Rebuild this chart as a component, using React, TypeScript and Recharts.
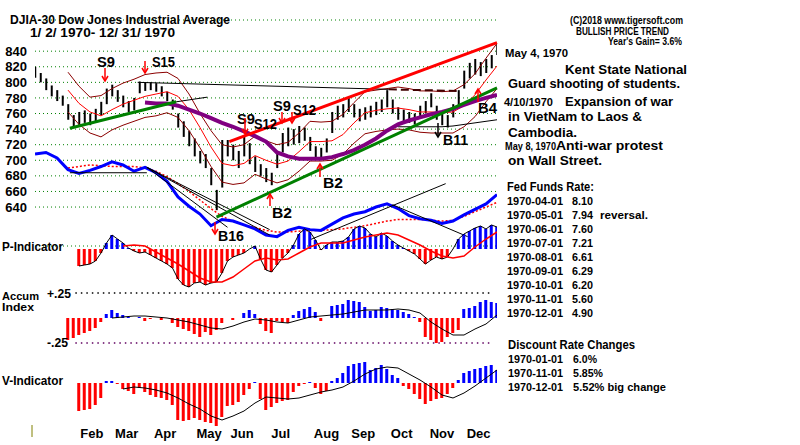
import React from 'react';
import { ComposedChart, Bar, Line, XAxis, YAxis, CartesianGrid, ReferenceLine, Cell } from 'recharts';

const FONT = '"Liberation Sans", Arial, sans-serif';

// one bar every 3 trading days, Jan 2 .. Dec 31 1970 (day index 0..252)
const BAR_STEP = 3;
const LAST_DAY = 252;

const priceHigh = [
  820, 812, 805, 796, 790, 783, 772, 758, 762, 764,
  760, 766, 775, 792, 797, 790, 783, 776, 780, 801,
  800, 800, 799, 795, 788, 778, 760, 750, 738, 728,
  712, 708, 690, 662, 726, 726, 720, 712, 732, 722,
  705, 695, 690, 684, 712, 735, 742, 740, 744, 742,
  730, 718, 716, 728, 762, 770, 772, 781, 772, 766,
  768, 770, 775, 778, 790, 778, 768, 765, 762, 760,
  770, 776, 786, 770, 760, 758, 772, 790, 815, 825,
  830, 826, 830, 835, 850,
];
const priceLow = [
  806, 800, 790, 782, 776, 770, 752, 742, 744, 748,
  745, 750, 758, 772, 782, 775, 768, 762, 764, 786,
  789, 790, 788, 782, 776, 765, 742, 730, 718, 705,
  696, 690, 668, 636, 665, 705, 700, 690, 705, 695,
  685, 680, 672, 668, 690, 710, 718, 720, 722, 725,
  712, 704, 702, 710, 735, 752, 755, 762, 755, 750,
  752, 755, 758, 762, 768, 760, 752, 750, 748, 746,
  755, 760, 768, 752, 745, 742, 755, 770, 792, 805,
  810, 808, 812, 818, 835,
];

// P-Indicator, Accum Index (x100), V-Indicator, one per bar
const pInd = [
  null, null, null, null, null, null, null, null,
  -17, -16, -15, -12, -4, 6, 14, 10, 6, 1,
  -2, -4, -3, -6, -9, -12, -15, -19, -30, -36,
  -38, -34, -33, -36, -34, -33, -24, -12, -8, -6,
  -4, 0, 3, -10, -21, -23, -16, -9, -4, 4,
  15, 20, 17, 9, -1, 4, 7, 7, 8, 12,
  20, 23, 21, 15, 12, 16, 13, 8, 4, 1,
  -2, -5, -10, -15, -11, -8, -10, -8, 0, 10,
  15, 18, 21, 23, 20, 24, 22,
];
const accum = [
  null, null, null, null, null, null,
  -22, -20, -17, -15, -13, -10, -4, 4, 8, 5,
  3, 1, 0, 1, -3, -1, 0, -2, 0, -5,
  -9, -11, -13, -16, -19, -14, -17, -12, -5, 0,
  -2, 0, 5, 8, 4, -6, -13, -15, -3, -4,
  -5, 3, 7, 9, 11, 6, -3, 0, 12, 13,
  14, 18, 17, 16, 11, 7, 8, 11, 10, 9,
  8, 6, 4, 1, -4, -19, -22, -25, -24, -19,
  -15, -12, 9, 10, 12, 16, 18, 16, 15,
];
const vInd = [
  null, null, null, null, null, null, null, null,
  -28, -27, -26, -22, -15, 2, 2, -1, -6, -8,
  -11, -5, -9, -12, -14, -15, -17, -22, -37, -38,
  -37, -35, -37, -39, -40, -43, -34, -23, -22, -19,
  -12, -6, 1, -16, -27, -24, -20, -18, -17, -9,
  -3, -1, 1, -5, -11, -8, 2, 5, 10, 17,
  19, 20, 21, 13, 15, 18, 14, 8, 5, -3,
  -6, -11, -16, -21, -18, -16, -15, -11, -5, 3,
  10, 12, 14, 15, 17, 18, 13,
];

// smoothed lines, one value every second bar (every 6 trading days)
const ma21 = [
  null, null, null,
  790, 773, 762, 757, 765, 772, 777, 782, 785, 788,
  782, 765, 742, 717, 696, 693, 696, 706, 700, 695,
  699, 711, 724, 724, 725, 733, 748, 761, 764, 766,
  767, 765, 762, 762, 761, 762, 770, 784, 803, 821,
];
const upperBand = [
  null, null, null,
  813, 795, 781, 783, 792, 799, 804, 810, 812, 813,
  805, 785, 760, 738, 720, 717, 720, 731, 725, 720,
  723, 735, 750, 749, 750, 759, 774, 788, 790, 792,
  794, 792, 789, 789, 788, 789, 797, 811, 831, 850,
];
const lowerBand = [
  null, null, null,
  762, 746, 735, 730, 739, 745, 750, 755, 757, 761,
  755, 738, 716, 692, 672, 669, 671, 682, 676, 671,
  675, 686, 699, 699, 700, 708, 722, 734, 737, 739,
  740, 739, 736, 735, 735, 735, 743, 756, 775, 792,
];
const ma65 = [
  null, null, null, null, null, null, null, null, null, null,
  774, 773, 773, 770, 765, 760, 754, 748, 743, 737,
  731, 724, 710, 705, 702, 702, 702, 704, 708, 713,
  720, 728, 738, 746, 751, 755, 759, 762, 766, 771,
  776, 780, 784,
];
const ma200 = [
  null, null, null, null, null, null, null, null, null, null,
  null, null, null, null, null, null, null, null, null, null,
  null, null, null, null, null, null, null, null, null, null,
  null, null, null,
  743, 743, 743, 743, 743, 744, 746, 748, 750, 752,
];
const relStrength = [
  708, 710, 703, 688, 683, 687, 692, 698, 694, 686,
  691, 684, 673, 653, 641, 631, 616, 624, 622, 617,
  612, 604, 602, 610, 614, 611, 610, 618, 626, 631,
  634, 640, 644, 638, 629, 625, 623, 619, 622, 630,
  637, 644, 656,
];
const relStrengthMa = [
  null, null, null,
  690, 692, 694, 693, 692, 692, 692, 690, 686, 679,
  670, 660, 649, 638, 628, 622, 617, 614, 610, 608,
  608, 609, 610, 610, 611, 612, 614, 616, 619, 622,
  624, 624, 624, 623, 622, 623, 628, 634, 640, 646,
];
const pIndMa = [
  null, null, null, null, null, null, null, null,
  3, 4, 3, -3, -9, -15, -22, -29, -33, -33,
  -28, -20, -12, -9, -11, -10, -4, 2, 6, 6,
  6, 9, 12, 14, 16, 14, 9, 4, -2, -7,
  -9, -7, 2, 10, 17,
];
const accumMa = [
  null, null, null, null, null, null, null,
  0, 1, 2, 2, 1, 0, -2, -4, -7, -10,
  -11, -8, -4, -1, -2, -4, -5, -2, 1, 2,
  3, 4, 6, 8, 8, 8, 9, 8, 5, -4,
  -11, -17, -17, -11, -6, 3,
];
const vIndMa = [
  null, null, null, null, null, null, null, null,
  -6, -4, -5, -7, -10, -15, -21, -26, -33, -37,
  -33, -28, -20, -14, -15, -16, -15, -12, -9, -7,
  -4, 2, 9, 14, 16, 15, 9, 3, -4, -12,
  -15, -10, -3, 5, 13,
];

// trend lines: [day, value] pairs
const redTrend = [[106, 724], [252, 851]];
const greenTrends = [
  [[19, 741], [77, 775]],
  [[99, 627], [252, 793]],
];
const resistance = [[56, 800], [193, 791]];
const resistanceDashed = [[193, 791], [230, 789]];
const thinTrends = [
  [[77, 775], [94, 781]],
  [[19, 684], [61, 684]],
  [[61, 691], [128, 604]],
  [[61, 691], [128, 611]],
  [[61, 691], [105, 614]],
  [[150, 598], [224, 670]],
  [[195, 643], [236, 602]],
];
const accumBounds = [25, -25];

const priceTicks = [640, 660, 680, 700, 720, 740, 760, 780, 800, 820, 840];
const monthTicks = [31, 50, 71, 95, 113, 134, 159, 179, 200, 222, 242];
const monthLabels = ['Feb', 'Mar', 'Apr', 'May', 'Jun', 'Jul', 'Aug', 'Sep', 'Oct', 'Nov', 'Dec'];

const rows = priceHigh.map((high, i) => {
  const k = i % 2 === 0 ? i / 2 : -1;
  const at = (arr: (number | null)[]) => (k >= 0 ? arr[k] : null);
  return {
    t: i * BAR_STEP,
    hl: [priceLow[i], high],
    p: pInd[i],
    a: accum[i],
    v: vInd[i],
    ma21: at(ma21),
    up: at(upperBand),
    lo: at(lowerBand),
    ma65: at(ma65),
    ma200: at(ma200),
    rs: at(relStrength),
    rsMa: at(relStrengthMa),
    pMa: at(pIndMa),
    aMa: at(accumMa),
    vMa: at(vIndMa),
  };
});

const RED = '#ff0000';
const BLUE = '#0000ff';
const MAROON = '#8b0000';
const GREEN = '#008000';
const PURPLE = '#800080';

const seg = (s: number[][]) => s.map(([x, y]) => ({ x, y }));
const margins = { top: 0, right: 303, bottom: 0, left: 35 };

const xAxis = <XAxis type="number" dataKey="t" domain={[0, LAST_DAY]} hide allowDataOverflow />;
const flatY = (domain: number[]) => (
  <YAxis domain={domain} width={0} tick={false} axisLine={false} tickLine={false} allowDataOverflow />
);

function Txt({ x, y, s = 12, w, c = '#000', children }: any) {
  return (
    <text x={x} y={y} fontSize={s} fontWeight="bold" fill={c} fontFamily={FONT}
      textLength={w} lengthAdjust="spacingAndGlyphs">{children}</text>
  );
}

function Arrow({ x, y1, y2, c = RED }: any) {
  const d = y2 > y1 ? 1 : -1;
  return (
    <g stroke={c} strokeWidth={1.5} fill="none">
      <line x1={x} y1={y1} x2={x} y2={y2} />
      <polyline points={`${x - 3},${y2 - d * 5} ${x},${y2} ${x + 3},${y2 - d * 5}`} />
    </g>
  );
}

function MonthTick({ x, y, payload }: any) {
  const idx = monthTicks.indexOf(payload.value);
  return (
    <text x={x} y={y + 9} textAnchor="middle" fontSize={13} fontWeight="bold" fontFamily={FONT} fill="#000">
      {monthLabels[idx]}
    </text>
  );
}

const fedFunds = [
  ['1970-04-01', '8.10'], ['1970-05-01', '7.94'], ['1970-06-01', '7.60'],
  ['1970-07-01', '7.21'], ['1970-08-01', '6.61'], ['1970-09-01', '6.29'],
  ['1970-10-01', '6.20'], ['1970-11-01', '5.60'], ['1970-12-01', '4.90'],
];
const discountRates = [
  ['1970-01-01', '6.0%'], ['1970-11-01', '5.85%'], ['1970-12-01', '5.52% big change'],
];

export default function App() {
  const abs = (top: number): React.CSSProperties => ({ position: 'absolute', left: 0, top });
  return (
    <div style={{ position: 'fixed', left: 0, top: 0, width: 800, height: 445, background: '#fff', overflow: 'hidden', fontFamily: FONT }}>
      {/* price panel */}
      <div style={abs(0)}>
        <ComposedChart width={800} height={260} data={rows} margin={{ top: 20, right: 303, bottom: 14, left: 0 }}>
          <CartesianGrid vertical={false} stroke={GREEN} strokeDasharray="1 3" />
          {xAxis}
          <YAxis domain={[590, 880]} ticks={priceTicks} width={35} interval={0} axisLine={false} tickLine={false}
            tick={{ fontSize: 13, fontWeight: 'bold', fill: '#000', fontFamily: FONT }} />
          <Line dataKey="up" stroke={MAROON} strokeWidth={1} dot={false} connectNulls isAnimationActive={false} />
          <Line dataKey="lo" stroke={MAROON} strokeWidth={1} dot={false} connectNulls isAnimationActive={false} />
          <Line dataKey="ma21" stroke={RED} strokeWidth={1} dot={false} connectNulls isAnimationActive={false} />
          <Line dataKey="ma200" stroke="#000" strokeWidth={1} dot={false} connectNulls isAnimationActive={false} />
          <Line dataKey="ma65" stroke={PURPLE} strokeWidth={4} dot={false} connectNulls isAnimationActive={false} />
          <Bar dataKey="hl" fill="#000" barSize={2} isAnimationActive={false} />
          <Line dataKey="rsMa" stroke={RED} strokeWidth={1.5} strokeDasharray="2 2" dot={false} connectNulls isAnimationActive={false} />
          <Line dataKey="rs" stroke={BLUE} strokeWidth={3} dot={false} connectNulls isAnimationActive={false} />
          {thinTrends.map((s, i) => (
            <ReferenceLine key={i} segment={seg(s)} stroke="#000" strokeWidth={1} />
          ))}
          <ReferenceLine segment={seg(resistance)} stroke="#000" strokeWidth={1} />
          <ReferenceLine segment={seg(resistanceDashed)} stroke="#400000" strokeWidth={2} strokeDasharray="8 4" />
          {greenTrends.map((s, i) => (
            <ReferenceLine key={i} segment={seg(s)} stroke={GREEN} strokeWidth={3} />
          ))}
          <ReferenceLine segment={seg(redTrend)} stroke={RED} strokeWidth={3} />
        </ComposedChart>
      </div>

      {/* P-Indicator */}
      <div style={abs(223)}>
        <ComposedChart width={800} height={66} data={rows} margin={margins}>
          {xAxis}
          {flatY([-40, 26])}
          <Bar dataKey="p" barSize={3} isAnimationActive={false}>
            {rows.map((r, i) => <Cell key={i} fill={(r.p ?? 0) >= 0 ? BLUE : RED} />)}
          </Bar>
          <Line dataKey="p" stroke="#000" strokeWidth={1} dot={false} isAnimationActive={false} />
          <Line dataKey="pMa" stroke={RED} strokeWidth={1.5} dot={false} connectNulls isAnimationActive={false} />
        </ComposedChart>
      </div>

      {/* Accum Index */}
      <div style={abs(291)}>
        <ComposedChart width={800} height={54} data={rows} margin={margins}>
          {xAxis}
          {flatY([-27, 27])}
          {accumBounds.map((b, i) => (
            <ReferenceLine key={b} segment={[{ x: 22, y: b }, { x: 250, y: b }]}
              stroke={i === 0 ? '#000' : '#600060'} strokeWidth={1.5} strokeDasharray="1.5 4" />
          ))}
          <Bar dataKey="a" barSize={3} isAnimationActive={false}>
            {rows.map((r, i) => <Cell key={i} fill={(r.a ?? 0) >= 0 ? BLUE : RED} />)}
          </Bar>
          <Line dataKey="aMa" stroke="#000" strokeWidth={1} dot={false} connectNulls isAnimationActive={false} />
        </ComposedChart>
      </div>

      {/* V-Indicator with month axis */}
      <div style={abs(356)}>
        <ComposedChart width={800} height={89} data={rows} margin={margins}>
          <XAxis type="number" dataKey="t" domain={[0, LAST_DAY]} ticks={monthTicks} interval={0} height={16}
            axisLine={false} tickLine={false} tickSize={0} tickMargin={0} tick={<MonthTick />} allowDataOverflow />
          {flatY([-46, 27])}
          <Bar dataKey="v" barSize={3} isAnimationActive={false}>
            {rows.map((r, i) => <Cell key={i} fill={(r.v ?? 0) >= 0 ? BLUE : RED} />)}
          </Bar>
          <Line dataKey="vMa" stroke="#000" strokeWidth={1} dot={false} connectNulls isAnimationActive={false} />
        </ComposedChart>
      </div>

      {/* text and signal overlay */}
      <svg width={800} height={445} style={{ position: 'absolute', left: 0, top: 0, pointerEvents: 'none' }}>
        <Txt x={10} y={24} s={12} w={220}>DJIA-30  Dow Jones Industrial Average</Txt>
        <Txt x={30} y={37} s={12} w={145}>1/ 2/ 1970- 12/ 31/ 1970</Txt>

        <Txt x={570} y={24} s={10} w={113}>(C)2018 www.tigersoft.com</Txt>
        <Txt x={576} y={35} s={11} w={93}>BULLISH PRICE TREND</Txt>
        <Txt x={608} y={45} s={10} w={74}>Year's Gain= 3.6%</Txt>
        <Txt x={505} y={57} s={10} w={63}>May 4, 1970</Txt>
        <Txt x={565} y={73.5} s={13} w={122}>Kent State National</Txt>
        <Txt x={508} y={88} s={13} w={172}>Guard shooting of students.</Txt>
        <Txt x={504} y={106} s={10} w={49}>4/10/1970</Txt>
        <Txt x={565} y={106} s={13} w={108}>Expansion of war</Txt>
        <Txt x={508} y={121} s={13} w={134}>in VietNam to Laos &amp;</Txt>
        <Txt x={508} y={137} s={13} w={69}>Cambodia.</Txt>
        <Txt x={505} y={150} s={10} w={51}>May 8, 1970</Txt>
        <Txt x={556} y={150} s={13} w={107}>Anti-war protest</Txt>
        <Txt x={508} y={165} s={13} w={94}>on Wall Street.</Txt>

        <Txt x={507} y={191} s={12} w={87}>Fed Funds Rate:</Txt>
        {fedFunds.map(([d, r], i) => (
          <g key={d}>
            <Txt x={507} y={205 + i * 14} s={11} w={56}>{d}</Txt>
            <Txt x={572} y={205 + i * 14} s={11} w={21}>{r}</Txt>
          </g>
        ))}
        <Txt x={600} y={219} s={11} w={48}>reversal.</Txt>
        <Txt x={508} y={349} s={12} w={127}>Discount Rate Changes</Txt>
        {discountRates.map(([d, r], i) => (
          <g key={d}>
            <Txt x={508} y={363 + i * 14} s={11} w={55}>{d}</Txt>
            <Txt x={573} y={363 + i * 14} s={11} w={r.length > 6 ? 93 : r.length * 6}>{r}</Txt>
          </g>
        ))}

        <Txt x={2} y={251} s={12} w={61}>P-Indicator</Txt>
        <Txt x={2} y={300} s={11} w={37}>Accum</Txt>
        <Txt x={2} y={311} s={11} w={32}>Index</Txt>
        <Txt x={47} y={298} s={12} w={24}>+.25</Txt>
        <Txt x={47} y={347} s={12} w={21}>-.25</Txt>
        <Txt x={2} y={385} s={12} w={61}>V-Indicator</Txt>
        <line x1={32} y1={425} x2={32} y2={437} stroke="#808000" strokeWidth={1} />

        <Txt x={97} y={67} s={14} w={18}>S9</Txt>
        <Arrow x={105} y1={68} y2={81} />
        <Txt x={152} y={67} s={14} w={23}>S15</Txt>
        <Arrow x={145} y1={61} y2={73} />
        <Txt x={237} y={124} s={14} w={18}>S9</Txt>
        <Txt x={254} y={129} s={14} w={23}>S12</Txt>
        <Arrow x={245} y1={118} y2={134} />
        <Txt x={273} y={111} s={14} w={18}>S9</Txt>
        <Txt x={293} y={115} s={14} w={23}>S12</Txt>
        <Arrow x={282} y1={112} y2={123} />
        <Arrow x={292} y1={112} y2={123} />
        <Txt x={218} y={241} s={14} w={26}>B16</Txt>
        <Arrow x={215} y1={222} y2={234} />
        <Txt x={272} y={218} s={14} w={20}>B2</Txt>
        <Arrow x={270} y1={206} y2={194} />
        <Txt x={323} y={188} s={14} w={20}>B2</Txt>
        <Arrow x={320} y1={177} y2={164} />
        <Txt x={443} y={145} s={14} w={25}>B11</Txt>
        <Arrow x={438} y1={123} y2={137} c="#000" />
        <Txt x={478} y={113} s={14} w={19}>B4</Txt>
        <Arrow x={478} y1={102} y2={89} />
      </svg>
    </div>
  );
}
